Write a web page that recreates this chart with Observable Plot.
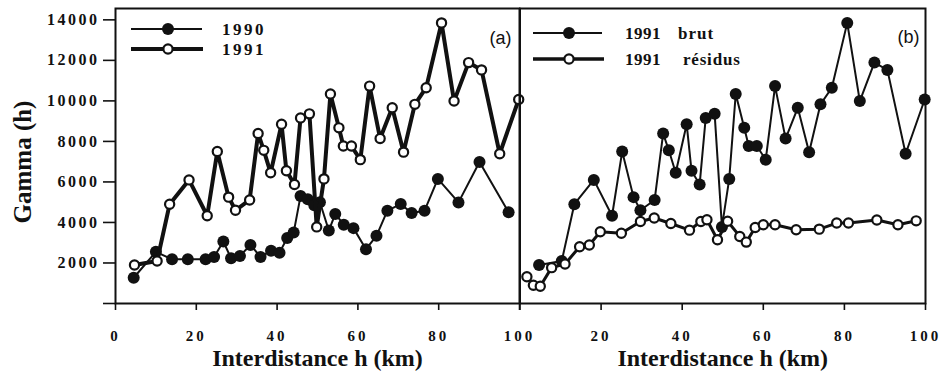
<!DOCTYPE html>
<html><head><meta charset="utf-8">
<script src="https://cdn.jsdelivr.net/npm/d3@7"></script>
<script src="https://cdn.jsdelivr.net/npm/@observablehq/plot@0.6"></script>
<style>
body{margin:0;background:#fff;}
#chart{position:relative;width:951px;height:375px;overflow:hidden;background:#fff;}
#chart svg{position:absolute;top:0;overflow:visible;background:transparent;}
</style></head><body><div id="chart"></div>
<script>
// ---- data ----
const dist1990 = [4.5,10.0,14.0,17.9,22.3,24.4,26.7,28.6,30.8,33.4,35.9,38.5,40.6,42.5,44.1,45.8,47.6,49.2,50.6,52.8,54.4,56.5,58.9,62.0,64.6,67.3,70.6,73.3,76.5,79.8,84.9,90.1,97.3];
const gamma1990 = [1270,2550,2180,2180,2180,2300,3060,2230,2350,2890,2300,2600,2510,3230,3500,5300,5150,4850,5000,3600,4420,3890,3720,2680,3340,4580,4910,4470,4580,6150,4990,6980,4500];
const dist1991 = [4.7,10.3,13.4,18.2,22.7,25.2,28.0,29.7,33.2,35.3,36.7,38.4,41.1,42.3,44.3,45.8,48.0,49.8,51.6,53.2,55.3,56.4,58.4,60.6,62.9,65.5,68.5,71.3,74.1,76.9,80.7,83.8,87.4,90.6,95.1,99.8];
const gamma1991 = [1900,2100,4900,6100,4330,7500,5250,4600,5110,8390,7560,6450,8850,6550,5870,9160,9360,3780,6150,10340,8670,7770,7770,7100,10730,8140,9660,7470,9830,10650,13850,9990,11890,11530,7390,10070];
const distRes = [1.7,3.3,5.0,7.8,11.1,14.7,17.1,19.8,25.0,29.7,33.1,37.2,41.8,44.6,46.1,48.7,51.2,54.2,55.8,58.0,60.0,62.9,68.1,73.8,78.1,81.0,88.0,93.2,97.7];
const gammaRes = [1320,900,850,1770,1950,2800,2890,3540,3470,4050,4220,3950,3620,4050,4130,3150,4060,3310,3030,3750,3890,3890,3640,3670,3970,3970,4120,3890,4080];
const yTicks = [0,2000,4000,6000,8000,10000,12000,14000];
const xTicksLeft = [0,20,40,60,80,100];
const xTicksRight = [0,20,40,60,80,100];
const xLabel = "Interdistance h (km)";
const yLabel = "Gamma (h)";
const legendLeft = ["1990","1991"];
const legendRightYear = ["1991","1991"];
const legendRightName = ["brut","résidus"];
const panelTags = ["(a)","(b)"];

const zip = (xs, ys) => xs.map((x, i) => ({x, y: ys[i]}));
const d1990 = zip(dist1990, gamma1990);
const d1991 = zip(dist1991, gamma1991);
const dRes = zip(distRes, gammaRes);

const ink = "#111";
const serif = "'Liberation Serif','Times New Roman',serif";
const sans = "'Liberation Sans',Arial,sans-serif";
const yDomain = [0, 14560];

function common(extra) {
  return Object.assign({
    height: 375, marginTop: 8, marginBottom: 72,
    x: {domain: [0, 100], axis: null},
    y: {domain: yDomain, axis: null},
    style: {fontFamily: serif, fontSize: "16px", fontWeight: "bold", color: ink, background: "transparent", overflow: "visible"}
  }, extra);
}

const left = Plot.plot(common({
  width: 520, marginLeft: 115, marginRight: 1,
  marks: [
    Plot.axisY({ticks: yTicks, tickSize: 12, tickPadding: 4, strokeWidth: 1.6, label: null,
      tickFormat: d => d === 0 ? "" : String(d)}),
    Plot.axisX({ticks: xTicksLeft, tickSize: 7, tickPadding: 20, strokeWidth: 1.6, label: null, fontSize: 15,
      tickFormat: d => String(d)}),
    Plot.line(d1990, {x: "x", y: "y", stroke: ink, strokeWidth: 2}),
    Plot.dot(d1990, {x: "x", y: "y", r: 6, fill: ink}),
    Plot.line(d1991, {x: "x", y: "y", stroke: ink, strokeWidth: 4}),
    Plot.dot(d1991, {x: "x", y: "y", r: 4.6, fill: "white", stroke: ink, strokeWidth: 2.2}),
    Plot.frame({stroke: ink, strokeWidth: 2}),
    Plot.text([yLabel], {frameAnchor: "left", textAnchor: "middle", dx: -93, dy: 6, rotate: -90, fontSize: 25, fontWeight: "bold", fill: ink, ariaLabel: "ytitle"}),
    Plot.text([xLabel], {frameAnchor: "bottom", textAnchor: "middle", dy: 62, fontSize: 24, fontWeight: "bold", fill: ink, ariaLabel: "xtitle"}),
    Plot.text([panelTags[0]], {frameAnchor: "top-right", dx: -8, dy: 23, textAnchor: "end", fontFamily: sans, fontWeight: "normal", fontSize: 18, fill: ink, ariaLabel: "tag"})
  ]
}));

const right = Plot.plot(common({
  width: 433, marginLeft: 1.5, marginRight: 26,
  marks: [
    Plot.axisX({ticks: xTicksRight, tickSize: 7, tickPadding: 20, strokeWidth: 1.6, label: null, fontSize: 15,
      tickFormat: d => d === 0 ? "" : String(d)}),
    Plot.line(d1991, {x: "x", y: "y", stroke: ink, strokeWidth: 2}),
    Plot.dot(d1991, {x: "x", y: "y", r: 6, fill: ink}),
    Plot.line(dRes, {x: "x", y: "y", stroke: ink, strokeWidth: 3}),
    Plot.dot(dRes, {x: "x", y: "y", r: 4.6, fill: "white", stroke: ink, strokeWidth: 2.2}),
    Plot.frame({stroke: ink, strokeWidth: 2}),
    Plot.text([xLabel], {frameAnchor: "bottom", textAnchor: "middle", dy: 62, fontSize: 24, fontWeight: "bold", fill: ink, ariaLabel: "xtitle"}),
    Plot.text([panelTags[1]], {frameAnchor: "top-right", dx: -6, dy: 22, textAnchor: "end", fontFamily: sans, fontWeight: "normal", fontSize: 18, fill: ink, ariaLabel: "tag"})
  ]
}));

left.style.left = "0px";
right.style.left = "518px";
const chart = document.getElementById("chart");
chart.appendChild(left);
chart.appendChild(right);

// letter spacing tweaks
for (const svg of [left, right]) {
  const s = d3.select(svg);
  s.selectAll('g[aria-label="y-axis tick label"] text').style("letter-spacing", "2.5px");
  s.selectAll('g[aria-label="x-axis tick label"] text').style("letter-spacing", "3px");
  s.selectAll('g[aria-label="xtitle"] text').style("letter-spacing", "0.6px");
  s.selectAll('g[aria-label="ytitle"] text').style("letter-spacing", "0.3px");
}

// legends (layout positions in svg-local pixels)
function legendRow(svg, y, x0, x1, xm, filled, lw) {
  const g = d3.select(svg).append("g");
  g.append("line").attr("x1", x0).attr("x2", x1).attr("y1", y).attr("y2", y).attr("stroke", ink).attr("stroke-width", lw);
  g.append("circle").attr("cx", xm).attr("cy", y).attr("r", filled ? 6 : 4.6)
    .attr("fill", filled ? ink : "white").attr("stroke", ink).attr("stroke-width", filled ? 0 : 2.2);
  return g;
}
function legendText(svg, x, y, str, size, spacing) {
  d3.select(svg).append("text").attr("x", x).attr("y", y).attr("dy", "0.35em")
    .attr("text-anchor", "start")
    .attr("font-family", serif).attr("font-weight", "bold").attr("font-size", size)
    .style("letter-spacing", spacing + "px").attr("fill", ink).text(str);
}
legendRow(left, 29, 131, 202, 168, true, 2);
legendText(left, 222, 29, legendLeft[0], 17, 2.5);
legendRow(left, 49, 131, 203, 168, false, 4);
legendText(left, 222, 49, legendLeft[1], 17, 2.5);

legendRow(right, 33, 15, 84, 51, true, 2);
legendText(right, 107, 33, legendRightYear[0], 17, 0.5);
legendText(right, 160, 33, legendRightName[0], 17, 1);
legendRow(right, 59, 15, 86, 51, false, 3.5);
legendText(right, 107, 59, legendRightYear[1], 17, 0.5);
legendText(right, 165, 59, legendRightName[1], 17, 0.8);
</script></body></html>
